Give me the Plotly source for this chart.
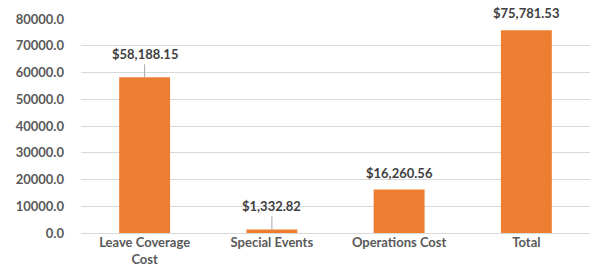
import plotly.graph_objects as go

categories = ["Leave Coverage<br>Cost", "Special Events", "Operations Cost", "Total"]
values = [58188.15, 1332.82, 16260.56, 75781.53]
value_labels = ["$58,188.15", "$1,332.82", "$16,260.56", "$75,781.53"]
leader_lines = [True, True, False, False]

font_family = "Lato"
grey = "#595959"

fig = go.Figure()
fig.add_trace(go.Bar(
    x=categories, y=values,
    marker=dict(color="#ED7D31", line=dict(width=0)),
    hoverinfo="skip",
))

for cat, v, lab, lead in zip(categories, values, value_labels, leader_lines):
    if lead:
        fig.add_annotation(
            x=cat, y=v, text=lab, showarrow=True, arrowhead=0, arrowwidth=1,
            arrowcolor="#a6a6a6", ax=0, ay=-13, standoff=0,
            font=dict(family=font_family, size=13, color="#404040", weight="bold"),
            yanchor="bottom",
        )
    else:
        fig.add_annotation(
            x=cat, y=v, text=lab, showarrow=False, yshift=7,
            font=dict(family=font_family, size=13, color="#404040", weight="bold"),
            yanchor="bottom",
        )

fig.update_layout(
    width=592, height=279,
    margin=dict(l=81, r=2, t=19, b=46, autoexpand=False),
    paper_bgcolor="white", plot_bgcolor="white",
    bargap=0.6, showlegend=False,
    font=dict(family=font_family, size=12, color=grey),
)
fig.update_xaxes(
    showgrid=False, showline=False, ticks="", automargin=False,
    tickfont=dict(family=font_family, size=13, color=grey, weight="bold"),
)
fig.update_yaxes(
    range=[0, 80000], dtick=10000, tickformat=".1f", automargin=False,
    showgrid=True, gridcolor="#d9d9d9", gridwidth=1,
    zeroline=True, zerolinecolor="#d9d9d9", zerolinewidth=1,
    showline=False, ticks="", ticklabelstandoff=16,
    tickfont=dict(family=font_family, size=13, color=grey, weight="bold"),
)

fig.write_html(
    "out.html",
    config={"displayModeBar": False},
    post_script="document.body.style.margin='0';document.body.style.overflow='hidden';",
)
